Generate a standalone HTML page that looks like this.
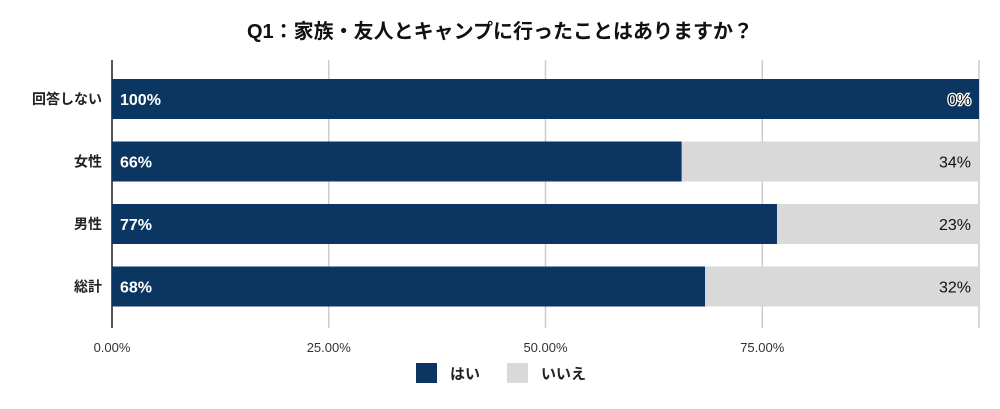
<!DOCTYPE html>
<html><head><meta charset="utf-8"><style>
body{margin:0;background:#fff;}
svg text{font-family:"Liberation Sans","Noto Sans CJK JP",sans-serif;}
</style></head><body>
<svg id="c" width="1000" height="404">
<text x="500" y="38" text-anchor="middle" font-size="20" font-weight="bold" fill="#111">Q1：家族・友人とキャンプに行ったことはありますか？</text>
<g id="grid"></g><g id="bars"></g><g id="labels"></g>
<g>
<rect x="416" y="363" width="21" height="20" fill="#0b3661"/>
<text x="450" y="379" font-size="15" font-weight="bold" fill="#222">はい</text>
<rect x="507" y="363" width="21" height="20" fill="#d9d9d9"/>
<text x="541" y="379" font-size="15" font-weight="bold" fill="#222">いいえ</text>
</g>
</svg>
<script>
const categories=["回答しない","女性","男性","総計"];
const yesValues=[100,65.7,76.7,68.4];
const noValues=[0,34.3,23.3,31.6];
const tickValues=[0,25,50,75,100];
const tickLabels=["0.00%","25.00%","50.00%","75.00%",""];
const ns="http://www.w3.org/2000/svg";
const x0=112,x1=979,plotTop=60,plotBottom=328,rowTop=79,rowStep=62.5,barH=40;
const xs=v=>x0+(x1-x0)*v/100;
function mk(t,a,p){const e=document.createElementNS(ns,t);for(const k in a)e.setAttribute(k,a[k]);p.appendChild(e);return e;}
const grid=document.getElementById('grid'),bars=document.getElementById('bars'),labels=document.getElementById('labels');
tickValues.forEach((v,i)=>{
 const l=mk('line',{x1:xs(v),x2:xs(v),y1:plotTop,y2:plotBottom,stroke:i==0?'#555':'#ccc','stroke-width':i==0?2:1.5},grid);
 
 
 if(tickLabels[i]){const t=mk('text',{x:xs(v),y:352,'text-anchor':'middle','font-size':13,fill:'#333'},labels);t.textContent=tickLabels[i];
 
 }
});
categories.forEach((c,i)=>{
 const y=rowTop+i*rowStep, cy=y+barH/2;
 const t=mk('text',{x:102,y:cy+5,'text-anchor':'end','font-size':14,'font-weight':'bold',fill:'#222'},labels);t.textContent=c;
 
 
 const r2=mk('rect',{x:xs(yesValues[i]),y:y,width:xs(yesValues[i]+noValues[i])-xs(yesValues[i]),height:barH,fill:'#d9d9d9'},bars);
 
 
 const r=mk('rect',{x:x0,y:y,width:xs(yesValues[i])-x0,height:barH,fill:'#0b3661'},bars);
 
 
 const a=mk('text',{x:x0+8,y:cy+6,'font-size':16,'font-weight':'bold',fill:'#fff'},labels);a.textContent=Math.round(yesValues[i])+'%';
 
 
 const b=mk('text',{x:971,y:cy+6,'text-anchor':'end','font-size':16,fill:'#111'},labels);b.textContent=Math.round(noValues[i])+'%';
 if(noValues[i]==0){b.setAttribute('stroke','#fff');b.setAttribute('stroke-width','2.5');b.setAttribute('paint-order','stroke');}
 
 
});
</script>
</body></html>
